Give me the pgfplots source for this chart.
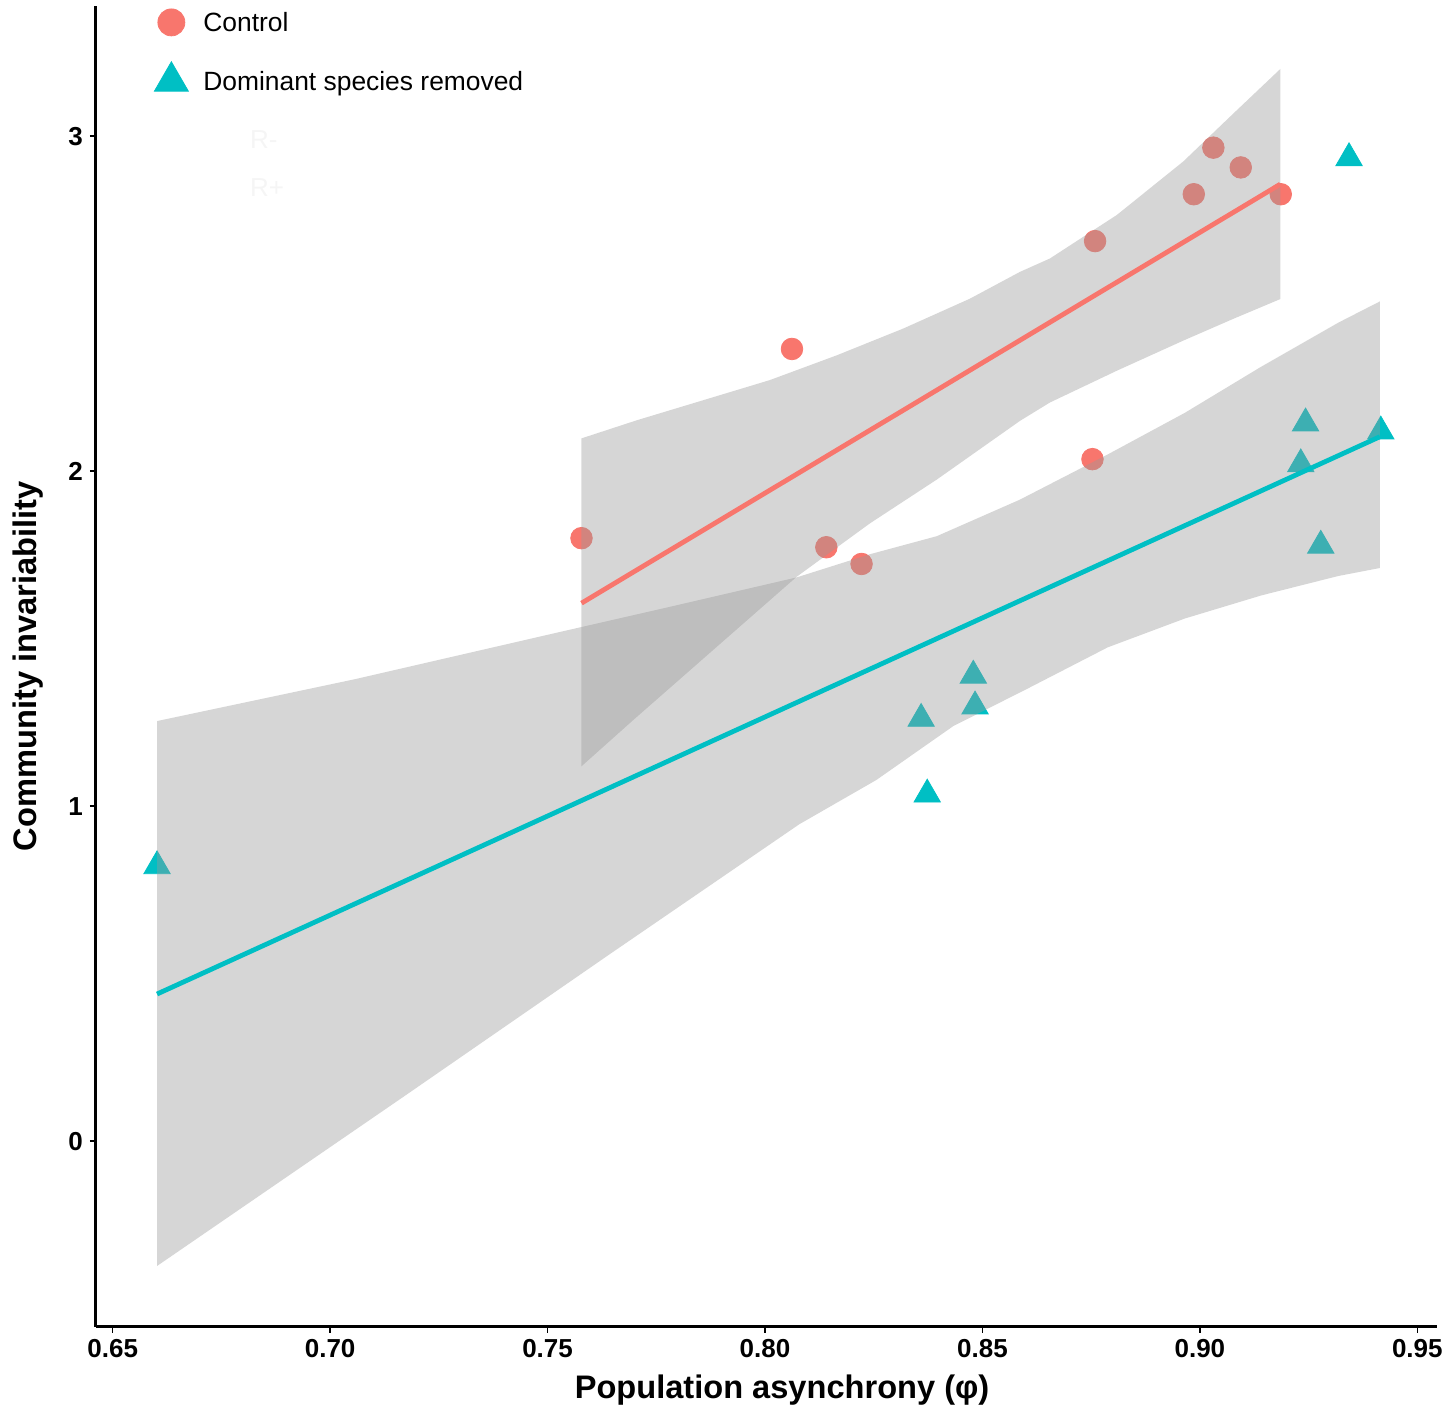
\documentclass[border=0pt]{standalone}
\usepackage{fontspec}
\setmainfont{Liberation Sans}
\usepackage{pgfplots}
\usepackage{pgfplotstable}
\pgfplotsset{compat=1.18}
\definecolor{ctrl}{HTML}{F8766D}
\definecolor{rem}{HTML}{00BFC4}
\definecolor{band}{HTML}{999999}

\pgfplotstableread{
x y
0.7578 1.800
0.8062 2.365
0.8141 1.773
0.8222 1.723
0.8753 2.036
0.8759 2.687
0.8986 2.827
0.9031 2.966
0.9094 2.907
0.9186 2.827
}\control

\pgfplotstableread{
x y
0.6602 0.821
0.8359 1.261
0.8373 1.035
0.8479 1.390
0.8483 1.298
0.9232 2.021
0.9243 2.143
0.9278 1.778
0.9343 2.935
0.9416 2.119
}\removed

% confidence band of the control fit: upper edge left to right, lower edge right to left
\pgfplotstableread{
x y
0.7578 2.098
0.7705 2.152
0.7858 2.212
0.8011 2.272
0.8165 2.346
0.8318 2.426
0.8471 2.515
0.8586 2.595
0.8655 2.635
0.8809 2.765
0.8962 2.925
0.9077 3.068
0.9185 3.201
0.9185 2.514
0.9077 2.455
0.8962 2.390
0.8809 2.300
0.8655 2.205
0.8586 2.150
0.8395 1.975
0.8241 1.844
0.8073 1.685
0.7697 1.257
0.7578 1.119
}\bandctrl

% confidence band of the removal fit
\pgfplotstableread{
x y
0.6602 1.254
0.7057 1.379
0.7515 1.516
0.7781 1.595
0.8073 1.683
0.8241 1.752
0.8395 1.806
0.8586 1.915
0.8788 2.050
0.8965 2.174
0.9141 2.312
0.9319 2.444
0.9414 2.507
0.9414 1.711
0.9318 1.687
0.9141 1.629
0.8965 1.560
0.8788 1.474
0.8610 1.355
0.8433 1.239
0.8256 1.078
0.8079 0.946
0.7643 0.558
0.7174 0.137
0.6602 -0.373
}\bandrem

\begin{document}
\begin{tikzpicture}
\begin{axis}[
  at={(0,0)}, anchor=south west,
  scale only axis, width=670.35pt, height=660.35pt,
  xmin=0.64616, xmax=0.95446, ymin=-0.5543, ymax=3.389,
  clip mode=individual,
  axis lines*=left,
  axis line style={line width=1.5pt, -},
  tick align=outside,
  major tick length=3pt,
  every tick/.style={line width=0.8pt, black},
  xtick={0.65,0.70,0.75,0.80,0.85,0.90,0.95},
  xticklabels={0.65,0.70,0.75,0.80,0.85,0.90,0.95},
  ytick={0,1,2,3},
  yticklabels={0,1,2,3},
  ticklabel style={font=\bfseries\fontsize{13}{13}\selectfont},
  /pgf/number format/assume math mode=true,
  xlabel={Population asynchrony (φ)},
  ylabel={Community invariability},
  every axis x label/.style={at={(axis description cs:0.5117,-0.054)}, anchor=base, font=\bfseries\fontsize{16.3}{16}\selectfont},
  every axis y label/.style={at={(axis description cs:-0.044,0.5)}, anchor=base, rotate=90, font=\bfseries\fontsize{16.3}{16}\selectfont},
  legend style={at={(axis description cs:0,1)}, anchor=north west, xshift=29pt, yshift=-1.25pt,
    draw=none, fill=none, inner sep=0pt, row sep=12.95pt, column sep=7.5pt,
    nodes={inner sep=0pt, text depth=0pt, font=\fontsize{13.2}{13.2}\selectfont}},
  legend cell align=left,
]
% points (drawn first, so the bands shade them)
\addplot[only marks, mark=*, mark size=5.4pt, color=ctrl, mark options={draw=none, fill=ctrl}, forget plot] table {\control};
\addplot[only marks, mark=triangle*, mark size=7.6pt, color=rem, mark options={draw=none, fill=rem}, forget plot] table {\removed};
% bands
\addplot[fill=band, fill opacity=0.4, draw=none, forget plot] table {\bandctrl} -- cycle;
\addplot[fill=band, fill opacity=0.4, draw=none, forget plot] table {\bandrem} -- cycle;
% fitted lines
\addplot[ctrl, line width=2.4pt, forget plot] coordinates {(0.7578,1.606) (0.9185,2.857)};
\addplot[rem, line width=2.4pt, forget plot] coordinates {(0.6602,0.439) (0.9414,2.103)};
% legend
\addlegendimage{legend image code/.code={\draw[ctrl, mark=*, mark size=6.75pt, mark options={draw=none, fill=ctrl}] plot[only marks] coordinates {(0pt,0pt)};}}
\addlegendentry{Control}
\addlegendimage{legend image code/.code={\draw[rem, mark=triangle*, mark size=9.8pt, mark options={draw=none, fill=rem}] plot[only marks] coordinates {(0pt,0pt)};}}
\addlegendentry{Dominant species removed}
% faint residual legend
\node[anchor=west, text=black!4, font=\fontsize{13}{13}\selectfont] at (axis description cs:0.1096,0.8986) {R-};
\node[anchor=west, text=black!4, font=\fontsize{13}{13}\selectfont] at (axis description cs:0.1096,0.8623) {R+};
\end{axis}
\pgfresetboundingbox
\path (-48pt,-46.15pt) rectangle (677pt,663.35pt);
\end{tikzpicture}
\end{document}
